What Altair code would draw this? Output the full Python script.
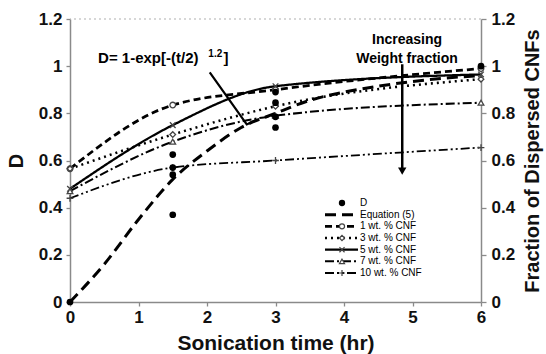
import altair as alt
import pandas as pd

# ---------------- data ----------------
time_pts = [0, 1.5, 3, 6]
series_names = ["1 wt. % CNF", "3 wt. % CNF", "5 wt. % CNF", "7 wt. % CNF", "10 wt. % CNF"]
cnf_1 = [0.565, 0.835, 0.90, 0.99]
cnf_3 = [0.565, 0.71, 0.83, 0.945]
cnf_5 = [0.48, 0.75, 0.915, 0.965]
cnf_7 = [0.47, 0.68, 0.79, 0.845]
cnf_10 = [0.44, 0.57, 0.60, 0.655]

d_time = [0, 1.5, 1.5, 1.5, 1.5, 3, 3, 3, 3, 6]
d_vals = [0, 0.37, 0.54, 0.57, 0.625, 0.74, 0.785, 0.845, 0.89, 1.0]

eq_time = [0, 0.5, 1, 1.5, 2, 2.5, 3, 3.5, 4, 4.5, 5, 5.5, 6]
eq_vals = [0, 0.16, 0.35, 0.52, 0.64, 0.74, 0.80, 0.855, 0.89, 0.915, 0.935, 0.95, 0.96]

x_ticks = [0, 1, 2, 3, 4, 5, 6]
y_ticks = [0, 0.2, 0.4, 0.6, 0.8, 1.0, 1.2]

legend_labels = ["D", "Equation (5)"] + series_names

# ---------------- styles ----------------
FONT = "Liberation Sans"
GREY = "#8a8a8a"
X_PATH = "M-1,-1L1,1M-1,1L1,-1"
PLUS_PATH = "M-1.2,0L1.2,0M0,-1.2L0,1.2"

line_names = ["Equation (5)"] + series_names
dash_scale = alt.Scale(domain=line_names,
                       range=[[11, 6], [7, 4], [2, 4], [1, 0], [9, 3, 2, 3], [9, 3, 2, 3, 2, 3]])
width_scale = alt.Scale(domain=line_names, range=[3, 1.8, 2.1, 1.5, 1.7, 1.7])
shape_scale = alt.Scale(domain=series_names,
                        range=["circle", "diamond", X_PATH, "triangle-up", PLUS_PATH])

xscale = alt.Scale(domain=[0, 6], nice=False)
yscale = alt.Scale(domain=[0, 1.2], nice=False)

# ---------------- tables ----------------
rows = []
for name, vals in zip(series_names, [cnf_1, cnf_3, cnf_5, cnf_7, cnf_10]):
    for t, v in zip(time_pts, vals):
        rows.append({"name": name, "t": t, "v": v})
series_df = pd.DataFrame(rows)
eq_df = pd.DataFrame({"name": "Equation (5)", "t": eq_time, "v": eq_vals})
lines_df = pd.concat([eq_df, series_df], ignore_index=True)
d_df = pd.DataFrame({"t": d_time, "v": d_vals})

x_axis = alt.Axis(values=x_ticks, format="d", title="Sonication time (hr)", grid=False,
                  tickSize=4, labelPadding=3, titlePadding=7, labelFlush=False,
                  titleFontSize=21)
y_axis = alt.Axis(values=y_ticks, format="~g", title="D", grid=False, labelFlush=False,
                  tickSize=4, labelPadding=4, titlePadding=12, orient="left",
                  titleFontSize=20)
X = alt.X("t:Q", scale=xscale, axis=x_axis)
Y = alt.Y("v:Q", scale=yscale, axis=y_axis)

top_rule = alt.Chart(pd.DataFrame({"v": [1.2]})).mark_rule(
    color="#b0b0b0", strokeDash=[2, 3], strokeWidth=1.2
).encode(y=Y)

lines = alt.Chart(lines_df).mark_line(color="black", interpolate="monotone").encode(
    x=X, y=Y,
    strokeDash=alt.StrokeDash("name:N", scale=dash_scale, legend=None),
    strokeWidth=alt.StrokeWidth("name:N", scale=width_scale, legend=None),
)

markers = alt.Chart(series_df).mark_point(
    filled=True, fill="white", stroke="#444444", strokeWidth=1.3, size=32, opacity=1
).encode(
    x=X, y=Y,
    shape=alt.Shape("name:N", scale=shape_scale, legend=None),
)

dpts = alt.Chart(d_df).mark_point(filled=True, color="black", size=45, shape="circle", opacity=1).encode(
    x=X, y=Y
)

# annotations
ann_main = pd.DataFrame({"label": ["D= 1-exp[-(t/2)", "]"], "t": [0.41, 2.24], "v": [1.015, 1.015]})
ann_sup = pd.DataFrame({"label": ["1.2"], "t": [2.02], "v": [1.04]})
ann_inc = pd.DataFrame({"label": ["Increasing", "Weight fraction"], "t": [4.92, 4.92], "v": [1.095, 1.015]})

txt_main = alt.Chart(ann_main).mark_text(font=FONT, fontSize=15, fontWeight="bold", align="left",
                                         baseline="alphabetic", color="black").encode(
    x=X, y=Y, text="label:N")
txt_sup = alt.Chart(ann_sup).mark_text(font=FONT, fontSize=10, fontWeight="bold", align="left",
                                       baseline="alphabetic", color="black").encode(
    x=X, y=Y, text="label:N")
txt_inc = alt.Chart(ann_inc).mark_text(font=FONT, fontSize=14, fontWeight="bold", align="center",
                                       baseline="alphabetic", color="black").encode(
    x=X, y=Y, text="label:N")

diag_df = pd.DataFrame({"t": [2.04, 2.58, 2.74], "v": [0.974, 0.753, 0.774], "o": [0, 1, 2]})
diag = alt.Chart(diag_df).mark_line(color="black", strokeWidth=2.2).encode(
    x=X, y=Y, order="o:Q")

vert_df = pd.DataFrame({"t": [4.85, 4.85], "v": [1.008, 0.56]})
vert = alt.Chart(vert_df).mark_line(color="black", strokeWidth=2.5).encode(x=X, y=Y)
head = alt.Chart(pd.DataFrame({"t": [4.85], "v": [0.555]})).mark_point(
    shape="triangle-down", filled=True, color="black", size=70, opacity=1).encode(x=X, y=Y)

main = alt.layer(top_rule, lines, markers, dpts, txt_main, txt_sup, txt_inc, diag, vert, head)

# right axis
right = alt.Chart(pd.DataFrame({"v": [0.0]})).mark_point(opacity=0).encode(
    y=alt.Y("v:Q", scale=yscale,
            axis=alt.Axis(values=y_ticks, format="~g", title="Fraction of Dispersed CNFs",
                          orient="right", grid=False, tickSize=5, labelPadding=5,
                          labelFlush=False, titleFontSize=20,
                          titlePadding=8, titleAngle=270, titleBaseline="top"))
)

# legend (manual, placed in pixel space inside the plot)
leg_df = pd.DataFrame({"label": legend_labels, "row": list(range(len(legend_labels)))})
leg_y = alt.Y("row:Q", scale=alt.Scale(domain=[0, 6], range=[184, 254]), axis=None)
leg_lines = alt.Chart(leg_df).transform_filter("datum.row > 0").mark_rule(color="black").encode(
    x=alt.value(255), x2=alt.value(288), y=leg_y,
    strokeDash=alt.StrokeDash("label:N", scale=dash_scale, legend=None),
    strokeWidth=alt.StrokeWidth("label:N", scale=width_scale, legend=None),
)
leg_marks = alt.Chart(leg_df).transform_filter("datum.row > 1").mark_point(
    filled=True, fill="white", stroke="#444444", strokeWidth=1.2, size=26, opacity=1).encode(
    x=alt.value(272), y=leg_y,
    shape=alt.Shape("label:N", scale=shape_scale, legend=None),
)
leg_dot = alt.Chart(leg_df).transform_filter("datum.row == 0").mark_point(
    filled=True, color="black", size=40, shape="circle", opacity=1).encode(
    x=alt.value(272), y=leg_y)
leg_text = alt.Chart(leg_df).mark_text(font=FONT, fontSize=10, align="left", baseline="middle",
                                       color="black").encode(
    x=alt.value(290), y=leg_y, text="label:N")
legend = alt.layer(leg_lines, leg_marks, leg_dot, leg_text)

chart = alt.layer(main, right, legend).resolve_scale(y="independent").properties(
    width=411, height=283,
    autosize=alt.AutoSizeParams(type="none"),
    padding={"left": 70, "top": 19, "right": 65, "bottom": 52},
).configure_view(stroke=None).configure_axis(
    domainColor=GREY, domainWidth=1.5, tickColor=GREY, tickWidth=1.3,
    labelFont=FONT, labelFontSize=17, labelFontWeight="bold", labelColor="#111111",
    titleFont=FONT, titleFontWeight="bold", titleColor="#111111",
)

chart.save("out.html", embed_options={"renderer": "svg", "actions": False})
